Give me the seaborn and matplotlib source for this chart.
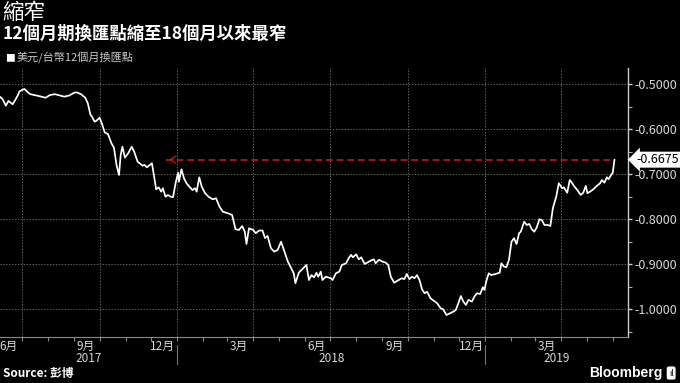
import pandas as pd
import matplotlib
matplotlib.use("Agg")
import matplotlib.pyplot as plt
import matplotlib.dates as mdates
from matplotlib.ticker import FormatStrFormatter, MultipleLocator, FuncFormatter
import matplotlib.transforms as mtransforms
import seaborn as sns

# 美元/台幣12個月換匯點
dates = [
    "2017-06-05", "2017-06-08", "2017-06-12", "2017-06-15", "2017-06-18", "2017-06-20",
    "2017-06-23", "2017-06-26", "2017-06-28", "2017-07-01", "2017-07-04", "2017-07-08",
    "2017-07-11", "2017-07-18", "2017-07-23", "2017-07-29", "2017-08-03", "2017-08-09",
    "2017-08-15", "2017-08-20", "2017-08-26", "2017-09-01", "2017-09-04", "2017-09-09",
    "2017-09-14", "2017-09-17", "2017-09-20", "2017-09-22", "2017-09-25", "2017-09-27",
    "2017-10-01", "2017-10-04", "2017-10-07", "2017-10-11", "2017-10-15", "2017-10-18",
    "2017-10-21", "2017-10-24", "2017-10-26", "2017-10-28", "2017-10-31", "2017-11-04",
    "2017-11-08", "2017-11-11", "2017-11-15", "2017-11-21", "2017-11-23", "2017-11-26",
    "2017-12-02", "2017-12-03", "2017-12-07", "2017-12-10", "2017-12-13", "2017-12-15",
    "2017-12-18", "2017-12-21", "2017-12-24", "2017-12-27", "2017-12-30", "2018-01-02",
    "2018-01-03", "2018-01-06", "2018-01-09", "2018-01-12", "2018-01-16", "2018-01-19",
    "2018-01-22", "2018-01-24", "2018-01-27", "2018-01-30", "2018-02-03", "2018-02-07",
    "2018-02-12", "2018-02-16", "2018-02-20", "2018-02-24", "2018-03-02", "2018-03-07",
    "2018-03-11", "2018-03-15", "2018-03-19", "2018-03-22", "2018-03-24", "2018-03-27",
    "2018-04-01", "2018-04-04", "2018-04-08", "2018-04-12", "2018-04-15", "2018-04-18",
    "2018-04-22", "2018-04-26", "2018-04-30", "2018-05-04", "2018-05-08", "2018-05-12",
    "2018-05-16", "2018-05-19", "2018-05-21", "2018-05-25", "2018-05-29", "2018-06-03",
    "2018-06-06", "2018-06-09", "2018-06-12", "2018-06-15", "2018-06-17", "2018-06-20",
    "2018-06-22", "2018-06-26", "2018-07-02", "2018-07-04", "2018-07-08", "2018-07-12",
    "2018-07-15", "2018-07-20", "2018-07-23", "2018-07-26", "2018-07-28", "2018-08-01",
    "2018-08-04", "2018-08-07", "2018-08-11", "2018-08-14", "2018-08-18", "2018-08-22",
    "2018-08-24", "2018-08-28", "2018-09-01", "2018-09-05", "2018-09-08", "2018-09-11",
    "2018-09-15", "2018-09-19", "2018-09-24", "2018-09-27", "2018-09-30", "2018-10-03",
    "2018-10-06", "2018-10-09", "2018-10-12", "2018-10-15", "2018-10-18", "2018-10-21",
    "2018-10-24", "2018-10-28", "2018-11-01", "2018-11-05", "2018-11-09", "2018-11-12",
    "2018-11-16", "2018-11-20", "2018-11-24", "2018-11-27", "2018-11-30", "2018-12-03",
    "2018-12-06", "2018-12-09", "2018-12-12", "2018-12-16", "2018-12-19", "2018-12-22",
    "2018-12-26", "2018-12-29", "2018-12-31", "2019-01-02", "2019-01-05", "2019-01-08",
    "2019-01-13", "2019-01-18", "2019-01-20", "2019-01-23", "2019-01-26", "2019-01-29",
    "2019-02-01", "2019-02-04", "2019-02-07", "2019-02-10", "2019-02-12", "2019-02-16",
    "2019-02-19", "2019-02-22", "2019-02-25", "2019-02-28", "2019-03-03", "2019-03-06",
    "2019-03-09", "2019-03-12", "2019-03-16", "2019-03-19", "2019-03-22", "2019-03-26",
    "2019-03-29", "2019-04-02", "2019-04-04", "2019-04-08", "2019-04-11", "2019-04-14",
    "2019-04-16", "2019-04-20", "2019-04-24", "2019-04-27", "2019-04-30", "2019-05-02",
    "2019-05-05", "2019-05-09", "2019-05-13", "2019-05-17", "2019-05-19", "2019-05-22",
    "2019-05-25", "2019-05-27", "2019-05-30", "2019-06-01", "2019-06-03",
]
values = [
    -0.5276, -0.5330, -0.5476, -0.5370, -0.5416, -0.5445,
    -0.5350, -0.5250, -0.5160, -0.5127, -0.5105, -0.5180,
    -0.5220, -0.5250, -0.5270, -0.5300, -0.5240, -0.5220,
    -0.5250, -0.5275, -0.5250, -0.5186, -0.5180, -0.5220,
    -0.5300, -0.5420, -0.5667, -0.5720, -0.5830, -0.5815,
    -0.5742, -0.5890, -0.6067, -0.6110, -0.6310, -0.6410,
    -0.6790, -0.7016, -0.6570, -0.6387, -0.6630, -0.6530,
    -0.6387, -0.6500, -0.6720, -0.6810, -0.6790, -0.6845,
    -0.6756, -0.6867, -0.7333, -0.7290, -0.7387, -0.7310,
    -0.7498, -0.7460, -0.7498, -0.7510, -0.7200, -0.6964,
    -0.7164, -0.6890, -0.7090, -0.7200, -0.7290, -0.7350,
    -0.7310, -0.7387, -0.7067, -0.7275, -0.7420, -0.7498,
    -0.7556, -0.7533, -0.7720, -0.7830, -0.7867, -0.7904,
    -0.8220, -0.8238, -0.8150, -0.8276, -0.8549, -0.8200,
    -0.8238, -0.8310, -0.8250, -0.8250, -0.8420, -0.8370,
    -0.8644, -0.8720, -0.8680, -0.8498, -0.8720, -0.8940,
    -0.9090, -0.9200, -0.9420, -0.9187, -0.9110, -0.9016,
    -0.9350, -0.9240, -0.9290, -0.9190, -0.9276, -0.9164,
    -0.9350, -0.9276, -0.9310, -0.9350, -0.9200, -0.9164,
    -0.9016, -0.8978, -0.8867, -0.8790, -0.8845, -0.8780,
    -0.8890, -0.8845, -0.8993, -0.8964, -0.8920, -0.8890,
    -0.8978, -0.8900, -0.8940, -0.8964, -0.9016, -0.9276,
    -0.9410, -0.9364, -0.9310, -0.9330, -0.9216, -0.9330,
    -0.9276, -0.9310, -0.9240, -0.9350, -0.9556, -0.9644,
    -0.9610, -0.9756, -0.9810, -0.9867, -0.9978, -1.0000,
    -1.0127, -1.0090, -1.0053, -1.0016, -0.9867, -0.9705,
    -0.9830, -0.9905, -0.9790, -0.9830, -0.9720, -0.9644,
    -0.9660, -0.9510, -0.9570, -0.9387, -0.9200, -0.9240,
    -0.9216, -0.9187, -0.8978, -0.9050, -0.9067, -0.8900,
    -0.8498, -0.8420, -0.8550, -0.8310, -0.8276, -0.8053,
    -0.8127, -0.8104, -0.8220, -0.8276, -0.8178, -0.8000,
    -0.8016, -0.8127, -0.8127, -0.8150, -0.7756, -0.7498,
    -0.7200, -0.7310, -0.7290, -0.7410, -0.7127, -0.7200,
    -0.7260, -0.7350, -0.7460, -0.7410, -0.7260, -0.7420,
    -0.7387, -0.7333, -0.7260, -0.7200, -0.7127, -0.7187,
    -0.7067, -0.7110, -0.7016, -0.6964, -0.6675,
]
arrow_start = "2017-12-19"   # 紅色虛線箭頭指向的日期
x_range = ["2017-06-05", "2019-06-19"]
y_range = [-1.0616, -0.4638]
years = [2017, 2018, 2019]

title = "縮窄"
subtitle = "12個月期換匯點縮至18個月以來最窄"
legend_label = "美元/台幣12個月換匯點"
source = "Source: 彭博"

df = pd.DataFrame({"date": pd.to_datetime(dates), "value": values})
last_date = df["date"].iloc[-1]
last_value = df["value"].iloc[-1]

sns.set_theme(style="dark")
plt.rcParams["font.family"] = ["Noto Sans CJK TC", "DejaVu Sans"]
plt.rcParams["axes.unicode_minus"] = False

bg = "black"
txt = "#d8d8d8"
grid_c = "#5e5e5e"
red = "#c3161c"

fig = plt.figure(figsize=(6.8, 3.83), dpi=100, facecolor=bg)
ax = fig.add_axes([0.0, 0.1201, 0.9235, 0.7024])
ax.set_facecolor(bg)

sns.lineplot(data=df, x="date", y="value", ax=ax, color="white", linewidth=1.25)

ax.set_xlim(pd.to_datetime(x_range[0]), pd.to_datetime(x_range[1]))
ax.set_ylim(*y_range)
ax.set_xlabel("")
ax.set_ylabel("")

# 右側 y 軸
ax.yaxis.tick_right()
ax.yaxis.set_major_locator(MultipleLocator(0.1))
ax.yaxis.set_minor_locator(MultipleLocator(0.05))
ax.yaxis.set_major_formatter(FormatStrFormatter("%.4f"))
ax.tick_params(axis="y", which="major", length=3, width=1, color="#cccccc",
               labelsize=9, labelcolor=txt, pad=1.5, right=True, left=False)
ax.tick_params(axis="y", which="minor", length=3, width=0.8, color="#aaaaaa",
               right=True, left=False)

# x 軸：季度格線 + 月刻度
ax.xaxis.set_major_locator(mdates.MonthLocator(bymonth=[1, 4, 7, 10]))
ax.xaxis.set_minor_locator(mdates.MonthLocator())
ax.tick_params(axis="x", which="both", length=3, width=0.8, color="#888888",
               labelbottom=False, bottom=True)

last_num = mdates.date2num(last_date)


def month_label(v, _):
    # 只標示資料範圍內的月份
    if v > last_num:
        return ""
    return f"{mdates.num2date(v).month}月"


sec = ax.secondary_xaxis("bottom")
sec.xaxis.set_major_locator(mdates.MonthLocator(bymonth=[3, 6, 9, 12], bymonthday=15))
sec.xaxis.set_major_formatter(FuncFormatter(month_label))
sec.tick_params(axis="x", length=0, labelsize=8.5, labelcolor=txt, pad=2)
sec.spines["bottom"].set_visible(False)

for s in ["left", "top"]:
    ax.spines[s].set_visible(False)
ax.spines["right"].set_color("#cccccc")
ax.spines["right"].set_linewidth(1)
ax.spines["bottom"].set_color("#888888")
ax.spines["bottom"].set_linewidth(0.8)

ax.grid(True, which="major", axis="both", color=grid_c, linestyle=(0, (1.5, 1.5)), linewidth=0.7)
ax.grid(False, which="minor")

# 年份標籤與分隔線
trans = mtransforms.blended_transform_factory(ax.transData, ax.transAxes)
lo, hi = [mdates.date2num(pd.to_datetime(d)) for d in x_range]
for yr in years:
    start = max(lo, mdates.date2num(pd.Timestamp(f"{yr}-01-01")))
    end = min(hi, mdates.date2num(pd.Timestamp(f"{yr + 1}-01-01")))
    ax.text((start + end) / 2, -0.08, str(yr), transform=trans, ha="center", va="center",
            fontsize=8.5, color=txt)
    if yr > years[0]:
        ax.plot([start, start], [-0.03, -0.1], transform=trans, color="#777777",
                lw=0.8, clip_on=False)

# 紅色虛線與箭頭
ax.plot([pd.to_datetime(arrow_start), last_date], [last_value, last_value],
        color=red, lw=1.2, dashes=(4, 2.4))
ax.annotate("", xy=(pd.to_datetime(arrow_start), last_value), xytext=(7, 0),
            textcoords="offset points",
            arrowprops=dict(arrowstyle="->,head_length=0.35,head_width=0.22", color=red, lw=0.9))

# 最新值標籤
ax.annotate(f"{last_value:.4f}", xy=(1, last_value), xycoords=("axes fraction", "data"),
            xytext=(6, 0), textcoords="offset points", ha="left", va="center",
            fontsize=9, color="black",
            bbox=dict(boxstyle="larrow,pad=0.12", fc="white", ec="none"))

# 標題與說明
fig.text(0.004, 0.966, title, fontsize=15.5, color="white", ha="left", va="center")
fig.text(0.004, 0.911, subtitle, fontsize=12.5, color="white", fontweight="bold",
         ha="left", va="center")
fig.text(0.008, 0.849, "■", fontsize=7, color="white", ha="left", va="center")
fig.text(0.024, 0.849, legend_label, fontsize=8, color="#c8c8c8", ha="left", va="center")
fig.text(0.004, 0.026, source, fontsize=8.5, color="white", fontweight="bold",
         ha="left", va="center")
fig.text(0.974, 0.026, "Bloomberg", fontsize=10, color="white", fontweight="bold",
         ha="right", va="center", family=["Liberation Sans", "DejaVu Sans"])
fig.text(0.987, 0.026, "ıl", fontsize=6, color="black", ha="center", va="center",
         bbox=dict(boxstyle="round,pad=0.25", fc="white", ec="none"))

fig.savefig("out.png", dpi=100, facecolor=bg)
